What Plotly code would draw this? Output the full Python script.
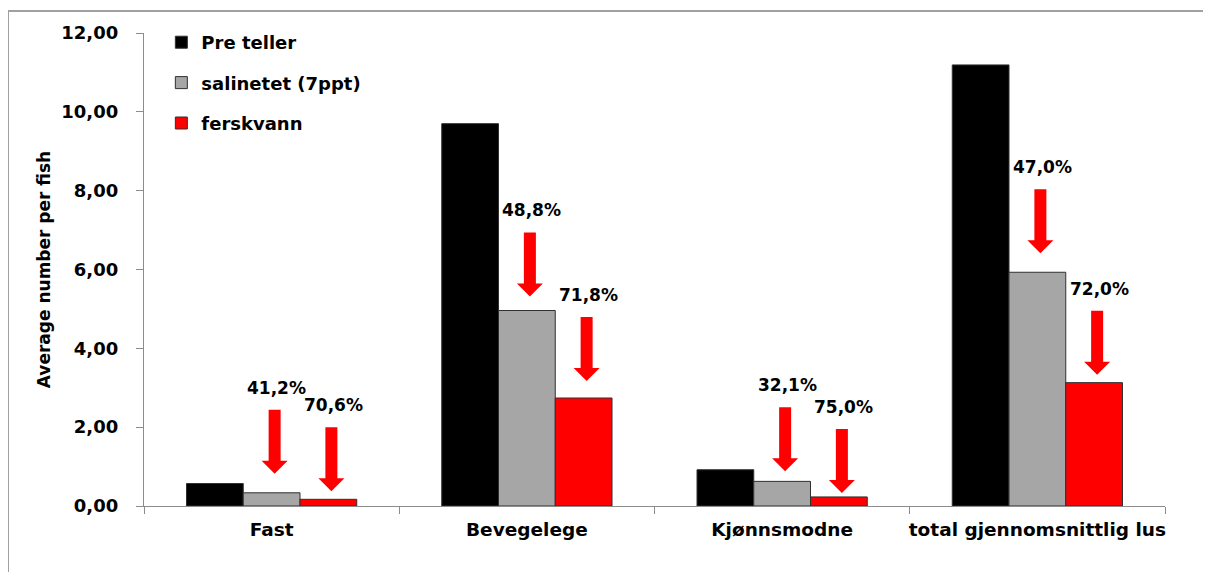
import plotly.graph_objects as go

categories = ["Fast", "Bevegelege", "Kjønnsmodne", "total gjennomsnittlig lus"]
pre_teller = [0.57, 9.70, 0.92, 11.19]
salinitet = [0.335, 4.96, 0.625, 5.93]
ferskvann = [0.17, 2.74, 0.23, 3.13]
pct_salinitet = ["41,2%", "48,8%", "32,1%", "47,0%"]
pct_ferskvann = ["70,6%", "71,8%", "75,0%", "72,0%"]

series_names = ["Pre teller", "salinetet (7ppt)", "ferskvann"]
series_colors = ["#000000", "#A6A6A6", "#FF0000"]

# gap (px) between each arrow tip and the bar below it, as placed in the source
lift_salinitet = [19, 14, 10, 19]
lift_ferskvann = [8, 17, 4, 8]

BARGAP = 0.333
bar_w = (1 - BARGAP) / 3
TICK_FONT = dict(family="DejaVu Sans", size=18, color="black", weight="bold")
CAT_FONT = dict(family="DejaVu Sans", size=18.5, color="black", weight="bold")
ARROW_LEN = 64
HEAD_LEN = 13
NUDGE = 3  # arrows sit a little right of the bar centres


def arrow_path(lift):
    top = lift + ARROW_LEN
    neck = lift + HEAD_LEN
    l, r = NUDGE - 6, NUDGE + 6
    hl, hr = NUDGE - 13, NUDGE + 13
    return (
        f"M {l},{top} L {r},{top} L {r},{neck} L {hr},{neck} L {NUDGE},{lift} "
        f"L {hl},{neck} L {l},{neck} Z"
    )


fig = go.Figure()
for name, vals, col in zip(series_names, [pre_teller, salinitet, ferskvann], series_colors):
    fig.add_trace(
        go.Bar(
            x=categories,
            y=vals,
            name=name,
            legendgroup=name,
            marker=dict(color=col, line=dict(color="#303030", width=1)),
        )
    )

# red block arrows with the reduction percentage above each
for idx in range(len(categories)):
    for off, vals, labels, lifts in [
        (0.0, salinitet, pct_salinitet, lift_salinitet),
        (bar_w, ferskvann, pct_ferskvann, lift_ferskvann),
    ]:
        xa = idx + off
        fig.add_shape(
            type="path",
            xref="x",
            yref="y",
            xsizemode="pixel",
            ysizemode="pixel",
            xanchor=xa,
            yanchor=vals[idx],
            path=arrow_path(lifts[idx]),
            fillcolor="#FF0000",
            line=dict(width=0),
        )
        fig.add_annotation(
            x=xa,
            y=vals[idx],
            text=labels[idx],
            showarrow=False,
            xshift=NUDGE + 2,
            yshift=lifts[idx] + ARROW_LEN + 22,
            font=dict(family="DejaVu Sans", size=17, color="black", weight="bold"),
        )

# outer frame (runs past the right and bottom edges like the source image)
fig.add_shape(
    type="rect",
    xref="paper",
    yref="paper",
    x0=-0.1332,
    x1=1.2,
    y0=-0.3,
    y1=1.0465,
    line=dict(color="#A0A0A0", width=2),
    fillcolor="rgba(0,0,0,0)",
    layer="below",
)

fig.update_layout(
    width=1203,
    height=564,
    margin=dict(l=136, r=46, t=25, b=66),
    paper_bgcolor="white",
    plot_bgcolor="white",
    barmode="group",
    bargap=BARGAP,
    bargroupgap=0,
    separators=", ",
    legend=dict(
        x=0.017,
        y=1.019,
        xanchor="left",
        yanchor="top",
        traceorder="grouped",
        tracegroupgap=14,
        font=TICK_FONT,
        bgcolor="rgba(0,0,0,0)",
    ),
    xaxis=dict(
        showline=True,
        linecolor="#8C8C8C",
        linewidth=1.3,
        ticks="outside",
        tickson="boundaries",
        ticklen=7,
        tickcolor="#8C8C8C",
        tickfont=CAT_FONT,
        tickangle=0,
        ticklabelstandoff=7,
        showgrid=False,
        automargin=False,
    ),
    yaxis=dict(
        range=[0, 12],
        dtick=2,
        tickformat=".2f",
        showline=True,
        linecolor="#8C8C8C",
        linewidth=1.3,
        ticks="outside",
        ticklen=7,
        tickcolor="#8C8C8C",
        tickfont=TICK_FONT,
        ticklabelstandoff=14,
        showgrid=False,
        zeroline=False,
        automargin=False,
        title=dict(
            text="Average number per fish",
            font=dict(family="DejaVu Sans", size=17, color="black", weight="bold"),
            standoff=6,
        ),
    ),
)

fig.write_html("out.html")
